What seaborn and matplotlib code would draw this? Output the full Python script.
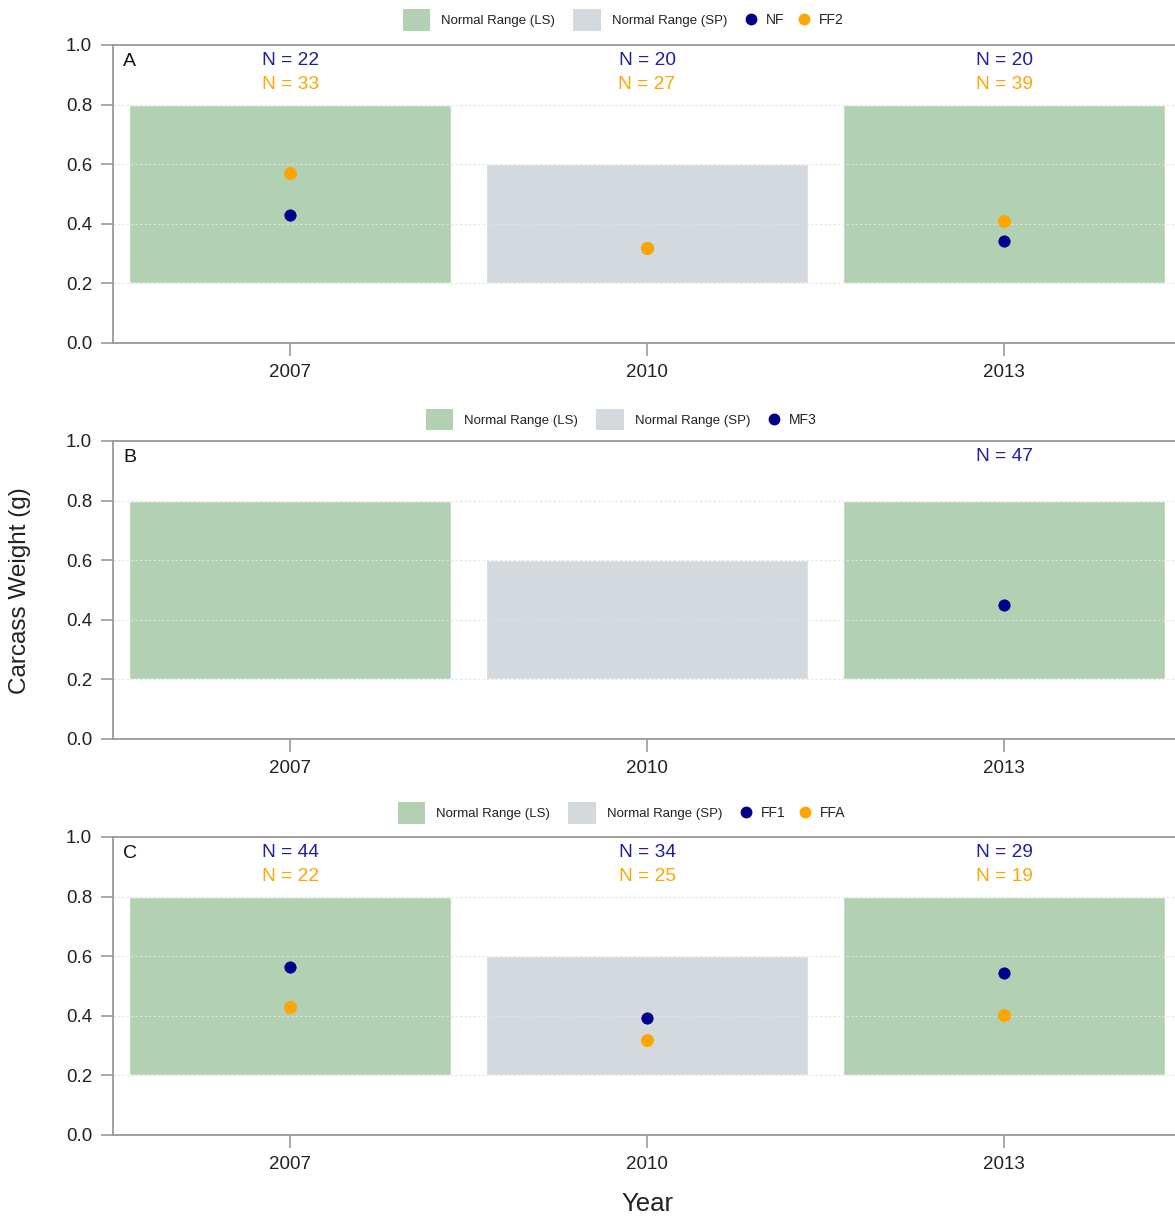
import numpy as np
import pandas as pd
import matplotlib
matplotlib.use("Agg")
import matplotlib.pyplot as plt
import seaborn as sns
from matplotlib.patches import Patch
from matplotlib.lines import Line2D

sns.set_style("white")
plt.rcParams['font.family'] = ['Liberation Sans', 'DejaVu Sans']

years = ["2007", "2010", "2013"]
range_low = [0.2, 0.2, 0.2]
range_high = [0.8, 0.6, 0.8]
range_kind = ["LS", "SP", "LS"]

# panel A
nf = [0.43, 0.32, 0.342]
ff2 = [0.57, 0.319, 0.409]
nf_n = [22, 20, 20]
ff2_n = [33, 27, 39]
# panel B
mf3 = [np.nan, np.nan, 0.45]
mf3_n = [None, None, 47]
# panel C
ff1 = [0.564, 0.393, 0.544]
ffa = [0.43, 0.319, 0.403]
ff1_n = [44, 34, 29]
ffa_n = [22, 25, 19]

green = "#b2d0b2"
grey = "#d4d9dd"
navy = "#00008b"
orange = "#ffa500"
navy_txt = "#1f1f9a"

panels = [
    ("A", [("NF", nf, nf_n, navy), ("FF2", ff2, ff2_n, orange)]),
    ("B", [("MF3", mf3, mf3_n, navy)]),
    ("C", [("FF1", ff1, ff1_n, navy), ("FFA", ffa, ffa_n, orange)]),
]

fig = plt.figure(figsize=(11.75, 12.17), dpi=100)
bottoms = [0.7182, 0.3928, 0.0674]
leg_y = [0.9836, 0.655, 0.332]
# x (pixels) where the patch part of each legend ends / marker part begins
leg_split = [727, 750, 722]
left, width, height = 0.0962, 0.9038, 0.2449

for (letter, series), b, ly, lpx in zip(panels, bottoms, leg_y, leg_split):
    ax = fig.add_axes([left, b, width, height])
    x = np.arange(len(years))
    cols = [green if k == "LS" else grey for k in range_kind]
    ax.bar(x, np.array(range_high) - np.array(range_low), bottom=range_low,
           width=0.9, color=cols, zorder=1)
    for yy in [0.2, 0.4, 0.6, 0.8]:
        ax.axhline(yy, color="#e3e3e3", lw=0.8, ls=(0, (2, 2)), zorder=1.5)

    for k, (name, vals, ns, c) in enumerate(series):
        d = pd.DataFrame({"x": x, "y": vals})
        sns.scatterplot(data=d, x="x", y="y", color=c, s=66, edgecolor=c,
                        linewidth=0.6 + 0.6 * k, ax=ax, legend=False, zorder=3 + k)

    for j, (name, vals, ns, c) in enumerate(series):
        for i, n in enumerate(ns):
            if n is None:
                continue
            ax.text(x[i], 0.948 - 0.08 * j, f"N = {n}", ha="center", va="center",
                    fontsize=13.8, color=navy_txt if c == navy else orange)
    ax.text(-0.468, 0.945, letter, ha="left", va="center", fontsize=14, color="#111111")

    ax.set_xlim(-0.496, 2.479)
    ax.set_ylim(0, 1.0)
    ax.set_xticks(x)
    ax.set_xticklabels(years)
    ax.set_yticks([0, 0.2, 0.4, 0.6, 0.8, 1.0])
    ax.set_yticklabels(["0.0", "0.2", "0.4", "0.6", "0.8", "1.0"])
    ax.tick_params(axis="both", direction="out", length=9, width=1.2, color="#999999",
                   labelsize=13.5, labelcolor="#222222", pad=6,
                   bottom=True, left=True)
    ax.set_xlabel("")
    ax.set_ylabel("")
    for sp in ["left", "bottom", "top"]:
        ax.spines[sp].set_color("#999999")
        ax.spines[sp].set_linewidth(1.3)
    ax.spines["right"].set_visible(False)

    patch_handles = [Patch(facecolor=green, edgecolor="none", label="Normal Range (LS)"),
                     Patch(facecolor=grey, edgecolor="none", label="Normal Range (SP)")]
    fig.legend(handles=patch_handles, loc="center right", bbox_to_anchor=(lpx / 1175, ly),
               ncol=2, frameon=False, fontsize=9.5, handlelength=2.1, handleheight=2.1,
               columnspacing=1.4, handletextpad=0.8, labelcolor="#222222",
               borderpad=0, borderaxespad=0)
    dot_handles = [Line2D([], [], marker="o", ls="", color=c, markersize=7.5, label=name)
                   for name, vals, ns, c in series]
    fig.legend(handles=dot_handles, loc="center left", bbox_to_anchor=((lpx + 18) / 1175, ly),
               ncol=len(dot_handles), frameon=False, fontsize=10, handlelength=0.8,
               columnspacing=1.0, handletextpad=0.7, labelcolor="#222222",
               borderpad=0, borderaxespad=0)

fig.text(0.017, 0.515, "Carcass Weight (g)", rotation=90, ha="center", va="center",
         fontsize=17.5, color="#222222")
fig.text(0.551, 0.011, "Year", ha="center", va="center", fontsize=18.5, color="#222222")

fig.savefig("out.png", dpi=100)
